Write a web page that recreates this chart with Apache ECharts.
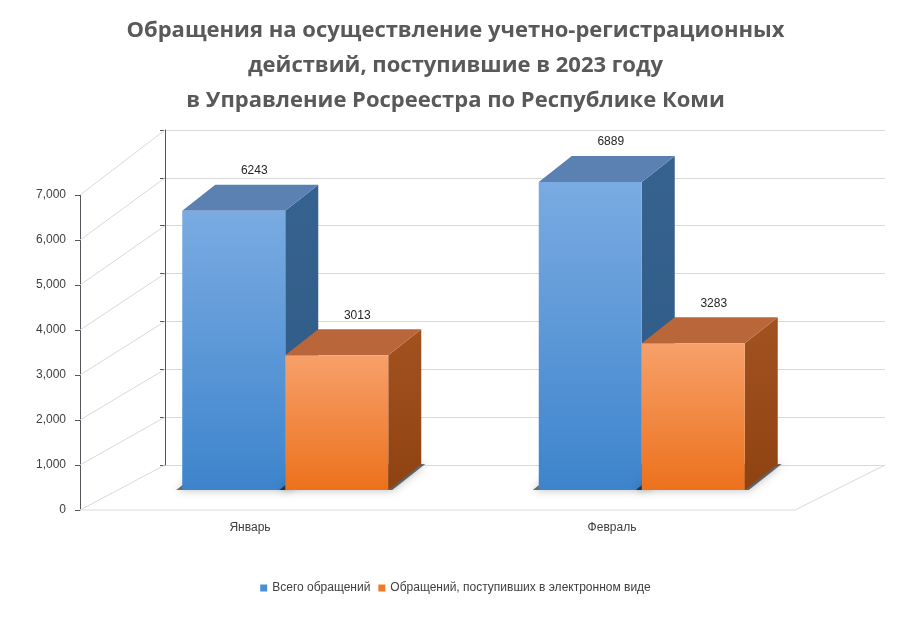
<!DOCTYPE html>
<html><head><meta charset="utf-8">
<script src="https://cdn.jsdelivr.net/npm/echarts@6/dist/echarts.min.js"></script>
<style>html,body{margin:0;padding:0;background:#fff}#c{width:911px;height:631px}</style>
</head><body><div id="c"></div>
<script>
const categories = ['Январь', 'Февраль'];
const totalValues = [6243, 6889];
const electronicValues = [3013, 3283];
const seriesNames = ['Всего обращений', 'Обращений, поступивших в электронном виде'];
const yTicks = [0, 1000, 2000, 3000, 4000, 5000, 6000, 7000];

const chart = echarts.init(document.getElementById('c'));
const BACK = {left: 165, top: 130, height: 335};
const DX = 33, DY = -26, BW = 103;
const faces = [
  {front: ['#7aabe2', '#3d84cc'], top: '#5b80b2', side: '#36628f'},
  {front: ['#f7a06a', '#ec711c'], top: '#b9663a', side: '#a2521f'}
];
function barItem(s) {
  return function (params, api) {
    const i = params.dataIndex, v = api.value(1);
    const b = api.coord([i, 0]), t = api.coord([i, v]);
    const x0 = s === 0 ? b[0] - BW : b[0], x1 = x0 + BW, y0 = t[1], y1 = b[1];
    const f = faces[s];
    return {type: 'group', children: [
      {type: 'polygon', shape: {points: [[x0 - 6, y1], [x1 + 4, y1], [x1 + DX + 4, y1 + DY], [x0 + DX - 6, y1 + DY]]},
        style: {fill: 'rgba(0,0,0,0.55)', shadowBlur: 8, shadowColor: 'rgba(0,0,0,0.5)'}, z2: 0},
      {type: 'polygon', shape: {points: [[x1, y0], [x1 + DX, y0 + DY], [x1 + DX, y1 + DY], [x1, y1]]},
        style: {fill: new echarts.graphic.LinearGradient(0, 0, 0, 1, [{offset: 0, color: f.side}, {offset: 1, color: s ? '#8f4312' : '#2f5a86'}])}, z2: 1},
      {type: 'polygon', shape: {points: [[x0, y0], [x0 + DX, y0 + DY], [x1 + DX, y0 + DY], [x1, y0]]},
        style: {fill: f.top}, z2: 1},
      {type: 'rect', shape: {x: x0, y: y0, width: BW, height: y1 - y0},
        style: {fill: new echarts.graphic.LinearGradient(0, 0, 0, 1, [{offset: 0, color: f.front[0]}, {offset: 1, color: f.front[1]}])}, z2: 2},
      {type: 'text', x: x0 + BW / 2 + DX / 2 + 4, y: y0 + DY - 14,
        style: {text: String(v), fill: '#262626', font: '12px "Liberation Sans", Arial', align: 'center', verticalAlign: 'middle'}, z2: 3}
    ]};
  };
}
chart.setOption({
  animation: false,
  title: {text: 'Обращения на осуществление учетно-регистрационных\nдействий, поступившие в 2023 году\nв Управление Росреестра по Республике Коми',
    left: 'center', top: 8, textStyle: {fontFamily: 'Open Sans', fontWeight: 'bold', fontSize: 22, color: '#595959', lineHeight: 35}},
  legend: {bottom: 32, left: 'center', icon: 'rect', itemWidth: 7, itemHeight: 7, itemGap: 8,
    textStyle: {fontFamily: 'Liberation Sans', fontSize: 12, color: '#404040'},
    data: [{name: seriesNames[0], itemStyle: {color: '#4a8fd6'}}, {name: seriesNames[1], itemStyle: {color: '#f07a2a'}}]},
  grid: [
    {left: BACK.left, right: 26, top: BACK.top, height: BACK.height},
    {left: 80, width: 715, top: 195, height: 315},
    {left: 107, right: 91, top: 177, bottom: 141},
    {left: 69, right: 118, top: 195, bottom: 121}
  ],
  xAxis: [
    {gridIndex: 0, type: 'value', show: false},
    {gridIndex: 1, type: 'value', min: 0, max: 1, show: false},
    {gridIndex: 2, type: 'category', data: categories, show: false},
    {gridIndex: 3, type: 'category', data: categories, axisLine: {show: false}, axisTick: {show: false},
      axisLabel: {margin: 12, fontFamily: 'Liberation Sans', fontSize: 12, color: '#404040'}}
  ],
  yAxis: [
    {gridIndex: 0, type: 'value', min: 0, max: 7000, interval: 1000, axisLabel: {show: false},
      splitLine: {lineStyle: {color: '#d9d9d9'}}},
    {gridIndex: 1, type: 'value', min: 0, max: 7000, interval: 1000, splitLine: {show: false},
      axisLabel: {margin: 14, fontFamily: 'Liberation Sans', fontSize: 12, color: '#404040'}},
    {gridIndex: 2, type: 'value', min: 0, max: 7000, show: false},
    {gridIndex: 3, type: 'value', show: false}
  ],
  series: [
    {type: 'custom', xAxisIndex: 1, yAxisIndex: 1, silent: true, z: 1,
      data: yTicks.map(v => [0, v]),
      renderItem: function (params, api) {
        const v = api.value(1), p = api.coord([0, v]);
        const by = BACK.top + BACK.height - v / 7000 * BACK.height;
        const ch = [{type: 'line', shape: {x1: p[0], y1: p[1], x2: BACK.left, y2: by}, style: {stroke: '#d9d9d9', lineWidth: 1}}];
        if (v === 0) {
          const e = api.coord([1, 0]);
          ch.push({type: 'line', shape: {x1: p[0], y1: p[1], x2: e[0], y2: e[1]}, style: {stroke: '#d9d9d9', lineWidth: 1}});
          ch.push({type: 'line', shape: {x1: e[0], y1: e[1], x2: 885, y2: by}, style: {stroke: '#d9d9d9', lineWidth: 1}});
        }
        return {type: 'group', children: ch};
      }},
    {name: seriesNames[0], type: 'custom', xAxisIndex: 2, yAxisIndex: 2, z: 3, itemStyle: {color: '#4a8fd6'},
      data: totalValues.map((v, i) => [i, v]), renderItem: barItem(0)},
    {name: seriesNames[1], type: 'custom', xAxisIndex: 2, yAxisIndex: 2, z: 4, itemStyle: {color: '#f07a2a'},
      data: electronicValues.map((v, i) => [i, v]), renderItem: barItem(1)}
  ]
});
</script></body></html>
